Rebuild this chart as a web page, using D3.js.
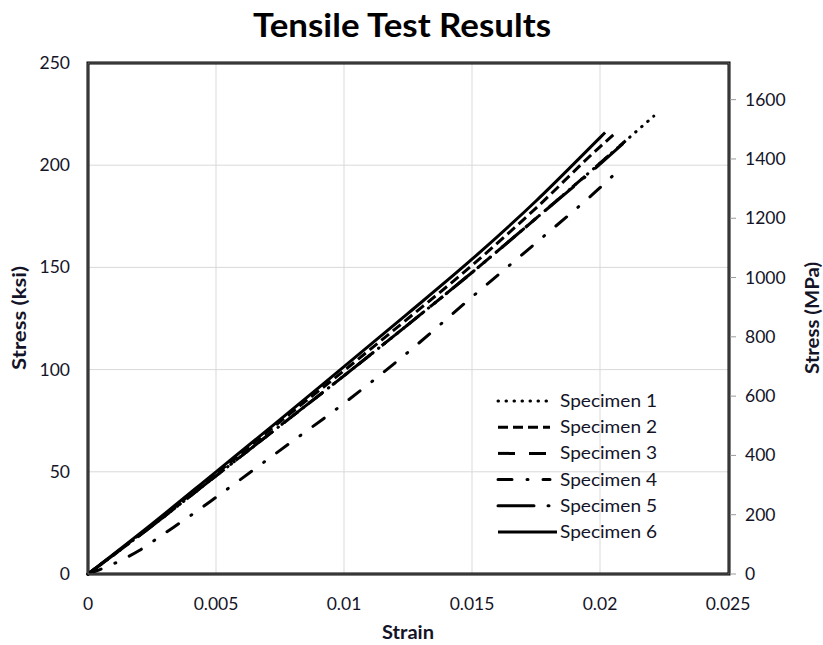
<!DOCTYPE html>
<html><head><meta charset="utf-8">
<script src="https://cdn.jsdelivr.net/npm/d3@7/dist/d3.min.js"></script>
<style>body{margin:0;background:#fff}svg{display:block}</style>
</head><body>
<svg id="chart" width="823" height="645"></svg>
<script>
// ---- data ----
const chartTitle = "Tensile Test Results";
const xTicks = [0, 0.005, 0.01, 0.015, 0.02, 0.025];
const xTickLabels = ["0", "0.005", "0.01", "0.015", "0.02", "0.025"];
const yTicksKsi = [0, 50, 100, 150, 200, 250];
const yTicksMPa = [0, 200, 400, 600, 800, 1000, 1200, 1400, 1600];
const ksiToMPa = 6.894757;
const seriesNames = ["Specimen 1", "Specimen 2", "Specimen 3", "Specimen 4", "Specimen 5", "Specimen 6"];

const s1Strain = [0, 0.0025, 0.005, 0.0075, 0.01, 0.0125, 0.015, 0.0175, 0.02, 0.0221];
const s1Stress = [0, 23.5, 48, 72.5, 97, 122, 147.5, 174, 201, 224];
const s2Strain = [0, 0.0025, 0.005, 0.0075, 0.01, 0.0125, 0.015, 0.0175, 0.02, 0.0206];
const s2Stress = [0, 24, 49, 74.5, 99.5, 125, 151, 179, 209, 215.7];
const s3Strain = [0, 0.0025, 0.005, 0.0075, 0.01, 0.0125, 0.015, 0.0175, 0.02, 0.021];
const s3Stress = [0, 23.5, 48, 72.5, 97, 122, 147.5, 174, 201, 212];
const s4Strain = [0, 0.001, 0.002, 0.003, 0.004, 0.005, 0.0075, 0.01, 0.0125, 0.015, 0.0175, 0.02, 0.0206];
const s4Stress = [0, 5, 11.5, 20, 28.5, 37.5, 60.5, 83.5, 108.5, 135.5, 162, 189, 196];
const s5Strain = [0, 0.0025, 0.005, 0.0075, 0.01, 0.0125, 0.015, 0.0175, 0.02, 0.0211];
const s5Stress = [0, 23.5, 48, 72.5, 97, 122, 147.5, 174, 200.5, 212.8];
const s6Strain = [0, 0.0025, 0.005, 0.0075, 0.01, 0.0125, 0.015, 0.0175, 0.02, 0.0202];
const s6Stress = [0, 24.5, 50, 75.5, 101.5, 127.5, 154, 182.5, 213.5, 216];

const seriesStrain = [s1Strain, s2Strain, s3Strain, s4Strain, s5Strain, s6Strain];
const seriesStress = [s1Stress, s2Stress, s3Stress, s4Stress, s5Stress, s6Stress];

// ---- styles ----
const dashStyles = [
  {dash: "0.5,7.5", cap: "round"},
  {dash: "10,5", cap: "butt"},
  {dash: "17,14", cap: "butt"},
  {dash: "14,15,1,15", cap: "round"},
  {dash: "36,14,1,14", cap: "round"},
  {dash: null, cap: "butt"}
];
const FONT = "Lato, 'Open Sans', sans-serif";
const textColor = "#141428";

const svg = d3.select("#chart");
const L = 88, T = 63, R = 729, B = 574;

const x = d3.scaleLinear().domain([0, 0.025]).range([L, R - 1]);
const y = d3.scaleLinear().domain([0, 250]).range([B, T]);
const yR = d3.scaleLinear().domain([0, 250 * ksiToMPa]).range([B, T]);

// gridlines
const grid = svg.append("g");
grid.selectAll("line.v").data(xTicks.slice(1, -1)).join("line")
  .attr("x1", d => x(d)).attr("x2", d => x(d)).attr("y1", T).attr("y2", B)
  .attr("stroke", "#d9d9d9").attr("stroke-width", 1);
grid.selectAll("line.h").data(yTicksKsi.slice(1, -1)).join("line")
  .attr("x1", L).attr("x2", R).attr("y1", d => y(d)).attr("y2", d => y(d))
  .attr("stroke", "#d9d9d9").attr("stroke-width", 1);

// series lines
const line = d3.line().x(d => x(d[0])).y(d => y(d[1])).curve(d3.curveMonotoneX);
const order = [5, 4, 3, 2, 1, 0];
order.forEach(i => {
  const pts = seriesStrain[i].map((s, k) => [s, seriesStress[i][k]]);
  const p = svg.append("path").datum(pts).attr("d", line)
    .attr("fill", "none").attr("stroke", "#000").attr("stroke-width", 3)
    .attr("stroke-linecap", dashStyles[i].cap).attr("stroke-linejoin", "round");
  if (dashStyles[i].dash) p.attr("stroke-dasharray", dashStyles[i].dash);
});

// frame
svg.append("rect").attr("x", L).attr("y", T).attr("width", R - L).attr("height", B - T)
  .attr("fill", "none").attr("stroke", "#000").attr("stroke-width", 3);
svg.append("rect").attr("x", L).attr("y", T).attr("width", R - L).attr("height", B - T)
  .attr("fill", "none").attr("stroke", "#8a8a8a").attr("stroke-width", 0.8);

// left axis labels
svg.append("g").selectAll("text").data(yTicksKsi).join("text")
  .attr("x", 70).attr("y", d => y(d) + 6).attr("text-anchor", "end")
  .attr("font-family", FONT).attr("font-size", 17.5).attr("fill", textColor)
  .text(d => d);

// bottom axis labels
svg.append("g").selectAll("text").data(xTicks).join("text")
  .attr("x", d => x(d)).attr("y", 610).attr("text-anchor", "middle")
  .attr("font-family", FONT).attr("font-size", 17.5).attr("fill", textColor)
  .text((d, i) => xTickLabels[i]);

// right axis
const rAxis = svg.append("g");
rAxis.selectAll("line").data(yTicksMPa).join("line")
  .attr("x1", R + 1).attr("x2", R + 7).attr("y1", d => yR(d)).attr("y2", d => yR(d))
  .attr("stroke", "#9a9a9a").attr("stroke-width", 1);
rAxis.selectAll("text").data(yTicksMPa).join("text")
  .attr("x", 745).attr("y", d => yR(d) + 6).attr("text-anchor", "start")
  .attr("font-family", FONT).attr("font-size", 17.5).attr("fill", textColor)
  .text(d => d);

// titles
svg.append("text").attr("x", 402).attr("y", 37).attr("text-anchor", "middle")
  .attr("font-family", FONT).attr("font-weight", "bold").attr("font-size", 32)
  .attr("textLength", 298).attr("lengthAdjust", "spacingAndGlyphs")
  .attr("fill", "#000").text(chartTitle);
svg.append("text").attr("x", 408).attr("y", 639).attr("text-anchor", "middle")
  .attr("font-family", FONT).attr("font-weight", "bold").attr("font-size", 18)
  .attr("textLength", 52).attr("lengthAdjust", "spacingAndGlyphs")
  .attr("fill", textColor).text("Strain");
svg.append("text").attr("transform", "translate(26,318) rotate(-90)").attr("text-anchor", "middle")
  .attr("font-family", FONT).attr("font-weight", "bold").attr("font-size", 18)
  .attr("textLength", 104).attr("lengthAdjust", "spacingAndGlyphs")
  .attr("fill", textColor).text("Stress (ksi)");
svg.append("text").attr("transform", "translate(819,318) rotate(-90)").attr("text-anchor", "middle")
  .attr("font-family", FONT).attr("font-weight", "bold").attr("font-size", 18)
  .attr("textLength", 112).attr("lengthAdjust", "spacingAndGlyphs")
  .attr("fill", textColor).text("Stress (MPa)");

// legend
const lg = svg.append("g");
seriesNames.forEach((name, i) => {
  const ly = 401 + i * 26.2;
  const l = lg.append("line").attr("x1", 498).attr("x2", i === 5 ? 557 : 550)
    .attr("y1", ly).attr("y2", ly).attr("stroke", "#000").attr("stroke-width", 3)
    .attr("stroke-linecap", dashStyles[i].cap);
  if (dashStyles[i].dash) l.attr("stroke-dasharray", dashStyles[i].dash);
  lg.append("text").attr("x", 560).attr("y", ly + 6)
    .attr("font-family", FONT).attr("font-size", 18).attr("fill", textColor)
    .attr("textLength", 97).attr("lengthAdjust", "spacingAndGlyphs").text(name);
});
</script>
</body></html>
